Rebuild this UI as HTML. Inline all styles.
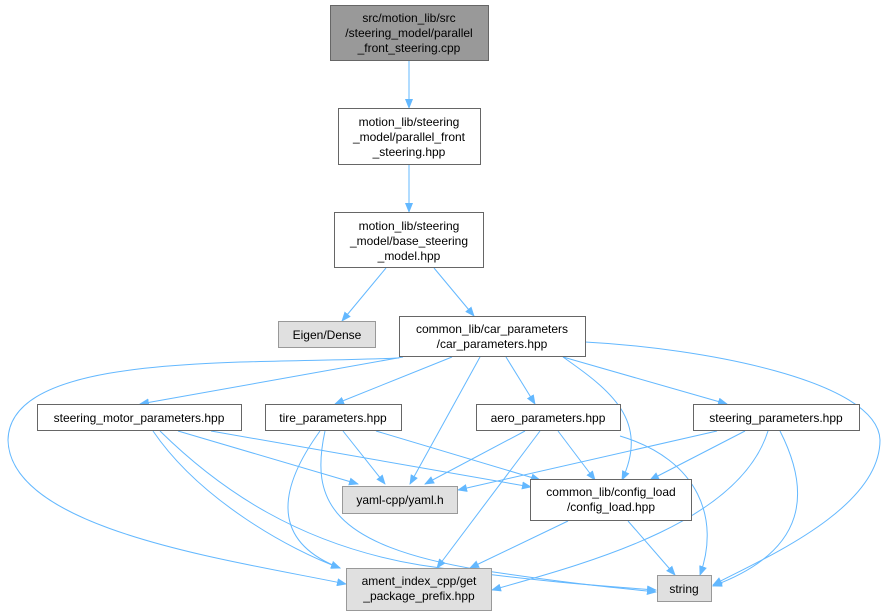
<!DOCTYPE html>
<html><head><meta charset="utf-8"><style>
html,body{margin:0;padding:0;background:#fff;}
svg{display:block;}
text{font-family:"Liberation Sans",sans-serif;font-size:12px;fill:#000;}
</style></head><body>
<svg width="882" height="613" viewBox="0 0 882 613" xmlns="http://www.w3.org/2000/svg">
<defs><marker id="a" markerWidth="10" markerHeight="8" refX="9" refY="4" orient="auto" markerUnits="userSpaceOnUse"><path d="M0,0 L10,4 L0,8 z" fill="#63b8ff"/></marker></defs>
<g fill="none" stroke="#63b8ff" stroke-width="1" marker-end="url(#a)">
<path d="M409,61 L409,108"/>
<path d="M409,165 L409,212"/>
<path d="M386,268 L342,321"/>
<path d="M434,268 L474,316"/>
<path d="M403,357 L140,404"/>
<path d="M452,357 L335,404"/>
<path d="M480,357 L410,484"/>
<path d="M506,357 L535,404"/>
<path d="M563,357 C610,390 650,420 622,480"/>
<path d="M563,357 L727,404"/>
<path d="M399,358 C250,365 10,350 8,440 C10,530 230,560 346,584"/>
<path d="M585,342 C700,348 878,380 880,440 C880,510 760,560 713,585"/>
<path d="M178,431 L358,484"/>
<path d="M211,431 L531,487"/>
<path d="M153,431 C200,500 290,550 340,568"/>
<path d="M160,431 C220,490 300,545 420,565 C520,580 600,586 656,590"/>
<path d="M343,431 L385,484"/>
<path d="M376,431 L540,480"/>
<path d="M320,431 C270,500 280,545 340,568"/>
<path d="M325,431 C310,500 330,545 480,570 C580,585 620,588 656,592"/>
<path d="M525,431 L425,484"/>
<path d="M558,431 L595,480"/>
<path d="M540,431 L437,568"/>
<path d="M620,436 C700,460 720,520 700,575"/>
<path d="M717,431 L458,490"/>
<path d="M745,431 L650,480"/>
<path d="M768,431 C740,520 600,560 492,590"/>
<path d="M780,431 C810,490 810,550 713,586"/>
<path d="M568,521 L470,568"/>
<path d="M628,521 L675,575"/>
</g>
<g stroke-width="1">
<rect x="330.5" y="5.5" width="158" height="55" fill="#999" stroke="#666"/>
<rect x="338.5" y="108.5" width="142" height="56" fill="#fff" stroke="#666"/>
<rect x="334.5" y="212.5" width="149" height="55" fill="#fff" stroke="#666"/>
<rect x="278.5" y="321.5" width="97" height="26" fill="#e0e0e0" stroke="#999"/>
<rect x="399.5" y="316.5" width="186" height="40" fill="#fff" stroke="#666"/>
<rect x="37.5" y="404.5" width="204" height="26" fill="#fff" stroke="#666"/>
<rect x="265.5" y="404.5" width="136" height="26" fill="#fff" stroke="#666"/>
<rect x="476.5" y="404.5" width="144" height="26" fill="#fff" stroke="#666"/>
<rect x="693.5" y="404.5" width="166" height="26" fill="#fff" stroke="#666"/>
<rect x="342.5" y="486.5" width="115" height="27" fill="#e0e0e0" stroke="#999"/>
<rect x="530.5" y="479.5" width="161" height="41" fill="#fff" stroke="#666"/>
<rect x="346.5" y="568.5" width="145" height="42" fill="#e0e0e0" stroke="#999"/>
<rect x="657.5" y="575.5" width="54" height="26" fill="#e0e0e0" stroke="#999"/>
</g>
<g text-anchor="middle">
<text x="409" y="22">src/motion_lib/src</text>
<text x="409" y="37">/steering_model/parallel</text>
<text x="409" y="52">_front_steering.cpp</text>
<text x="409" y="126">motion_lib/steering</text>
<text x="409" y="141">_model/parallel_front</text>
<text x="409" y="156">_steering.hpp</text>
<text x="409" y="230">motion_lib/steering</text>
<text x="409" y="245">_model/base_steering</text>
<text x="409" y="260">_model.hpp</text>
<text x="327" y="339">Eigen/Dense</text>
<text x="492" y="333">common_lib/car_parameters</text>
<text x="492" y="348">/car_parameters.hpp</text>
<text x="139" y="422">steering_motor_parameters.hpp</text>
<text x="333" y="422">tire_parameters.hpp</text>
<text x="548" y="422">aero_parameters.hpp</text>
<text x="776" y="422">steering_parameters.hpp</text>
<text x="400" y="504">yaml-cpp/yaml.h</text>
<text x="611" y="496">common_lib/config_load</text>
<text x="611" y="511">/config_load.hpp</text>
<text x="419" y="585">ament_index_cpp/get</text>
<text x="419" y="600">_package_prefix.hpp</text>
<text x="684" y="593">string</text>
</g>
</svg>
</body></html>
